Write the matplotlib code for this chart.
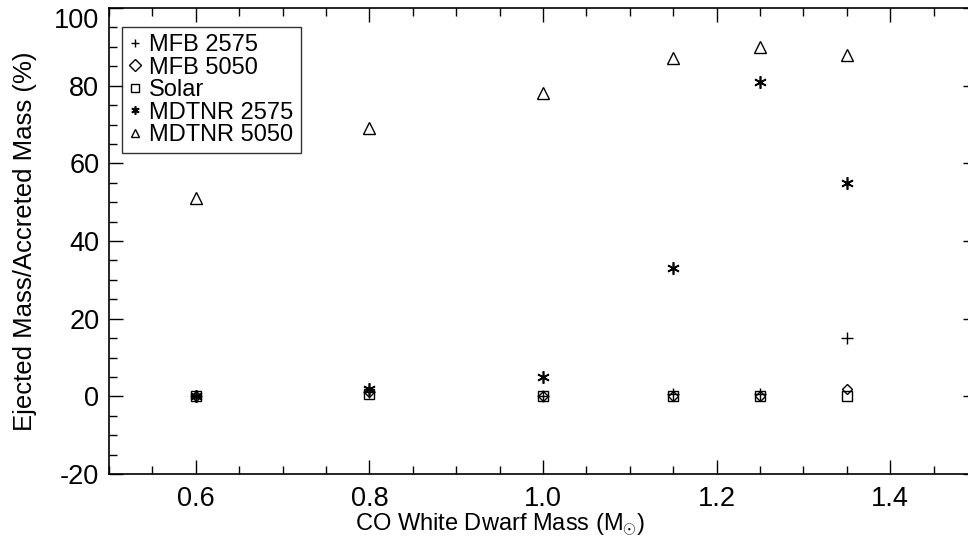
import numpy as np
import matplotlib
matplotlib.use("Agg")
import matplotlib.pyplot as plt
from matplotlib.ticker import MultipleLocator, FormatStrFormatter

plt.rcParams.update({"font.family": ["Liberation Sans", "DejaVu Sans"],
                     "mathtext.fontset": "custom",
                     "mathtext.rm": "Liberation Sans",
                     "mathtext.it": "Liberation Sans",
                     "mathtext.sf": "DejaVu Sans"})

# white dwarf masses (M_sun)
wd_mass = [0.6, 0.8, 1.0, 1.15, 1.25, 1.35]

# ejected / accreted mass, %
mfb_2575 = [0.0, 1.0, 0.0, 0.5, 0.5, 15.0]
mfb_5050 = [0.0, 1.0, 0.0, 0.0, 0.0, 2.0]
solar = [0.0, 0.5, 0.0, 0.0, 0.0, 0.0]
mdtnr_2575 = [0.0, 2.0, 5.0, 33.0, 81.0, 55.0]
mdtnr_5050 = [51.0, 69.0, 78.0, 87.0, 90.0, 88.0]

series = [("MFB 2575", mfb_2575, "+", 9, 1.0),
          ("MFB 5050", mfb_5050, "D", 5.5, 1.0),
          ("Solar", solar, "s", 7, 1.0),
          ("MDTNR 2575", mdtnr_2575, (6, 2, 0), 9, 1.2),
          ("MDTNR 5050", mdtnr_5050, "^", 8, 1.0)]

fig = plt.figure(figsize=(9.68, 5.51), dpi=100)
ax = fig.add_axes([109 / 968, 1 - 474 / 551, 868 / 968, 466 / 551])

for name, vals, m, ms, mw in series:
    ax.plot(wd_mass, vals, ls="none", marker=m, ms=ms, mfc="none",
            mec="black", mew=mw, color="black", label=name)

ax.set_xlim(0.5, 1.5)
ax.set_ylim(-20, 100)
ax.xaxis.set_major_locator(MultipleLocator(0.2))
ax.xaxis.set_minor_locator(MultipleLocator(0.05))
ax.yaxis.set_major_locator(MultipleLocator(20))
ax.yaxis.set_minor_locator(MultipleLocator(5))
ax.xaxis.set_major_formatter(FormatStrFormatter("%.1f"))
ax.yaxis.set_major_formatter(FormatStrFormatter("%d"))
ax.tick_params(which="both", direction="in", top=True, right=True,
               labelsize=19.5, color="black")
ax.tick_params(which="major", length=10, width=1)
ax.tick_params(axis="x", which="major", pad=9)
ax.tick_params(axis="y", which="major", pad=7)
ax.tick_params(which="minor", length=6, width=1)
for s in ax.spines.values():
    s.set_linewidth(1.2)

ax.set_xlabel(r"CO White Dwarf Mass (M$_{\odot}$)", fontsize=17)
ax.xaxis.set_label_coords(0.45, -0.08)
ax.set_ylabel("Ejected Mass/Accreted Mass (%)", fontsize=18.5)
ax.yaxis.set_label_coords(-0.083, 0.5)

leg = ax.legend(loc="upper left", bbox_to_anchor=(0.015, 0.959), fontsize=17,
                frameon=True, fancybox=False, edgecolor="black",
                handlelength=0.5, handletextpad=0.35, borderpad=0.3,
                labelspacing=0.02, borderaxespad=0)
leg.get_frame().set_linewidth(1.0)
for h in leg.legend_handles:
    h.set_markersize(6)

# keep the top tick label inside the figure, as in the original
fig.canvas.draw()
for lbl in ax.get_yticklabels():
    if lbl.get_text() == "100":
        lbl.set_verticalalignment("top")

fig.savefig("out.png", dpi=100)
